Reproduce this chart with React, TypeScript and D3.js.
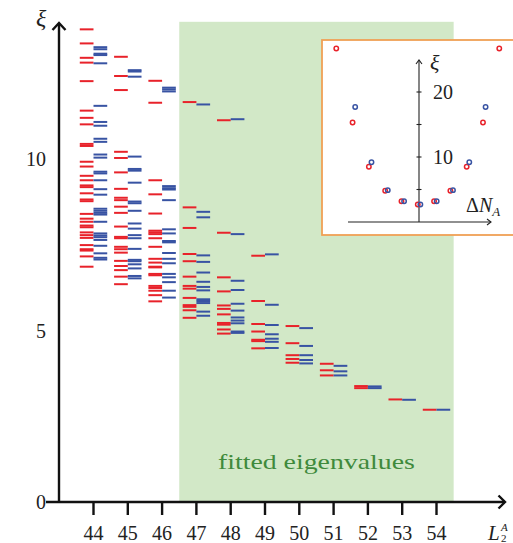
import React, { useRef, useEffect } from "react";
import * as d3 from "d3";

// subsystem sizes on the x axis
const sizes = [44, 45, 46, 47, 48, 49, 50, 51, 52, 53, 54];
const xTicks = sizes;
const yTicks = [0, 5, 10];

// entanglement levels per size (red = one sector, blue = the other)
const redLevels: number[][] = [
  [13.78, 13.37, 12.95, 12.81, 12.27, 11.41, 11.2, 11.01, 10.44, 10.38, 9.92, 9.78, 9.51, 9.38, 9.23, 9.18, 9.0, 8.82, 8.77, 8.4, 8.26, 8.17, 8.06, 8.01, 7.86, 7.78, 7.7, 7.49, 7.37, 7.33, 7.16, 6.86],
  [12.98, 12.42, 12.01, 10.21, 10.03, 9.61, 9.13, 8.87, 8.8, 8.61, 8.43, 8.03, 7.73, 7.69, 7.44, 7.37, 7.27, 7.03, 6.88, 6.76, 6.57, 6.35],
  [12.28, 11.64, 9.38, 8.97, 8.41, 7.91, 7.86, 7.81, 7.69, 7.44, 7.09, 6.98, 6.86, 6.84, 6.65, 6.61, 6.3, 6.24, 6.16, 6.03, 5.85],
  [11.66, 8.59, 7.99, 7.23, 7.02, 6.57, 6.3, 6.22, 5.95, 5.74, 5.69, 5.59, 5.37],
  [11.13, 7.85, 6.55, 6.14, 5.73, 5.63, 5.47, 5.22, 5.17, 5.03, 4.91],
  [7.18, 5.86, 5.19, 4.97, 4.73, 4.69, 4.48],
  [5.13, 4.63, 4.28, 4.17, 4.06],
  [4.03, 3.84, 3.69],
  [3.38, 3.32],
  [2.99],
  [2.69],
];
const blueLevels: number[][] = [
  [13.26, 13.2, 13.07, 13.03, 12.79, 11.55, 11.08, 10.97, 10.59, 10.5, 10.13, 10.04, 9.63, 9.58, 9.38, 9.12, 8.96, 8.55, 8.49, 8.43, 8.38, 8.17, 7.83, 7.77, 7.72, 7.64, 7.47, 7.25, 7.12, 7.07],
  [12.59, 12.55, 12.4, 10.07, 9.71, 9.66, 9.31, 8.76, 8.71, 8.49, 8.12, 7.97, 7.78, 7.69, 7.38, 7.06, 7.02, 6.93, 6.81, 6.59, 6.52],
  [12.08, 12.03, 11.97, 9.21, 9.15, 9.11, 8.8, 7.95, 7.83, 7.61, 7.57, 7.26, 7.09, 6.96, 6.65, 6.55, 6.41, 6.16, 5.96],
  [11.59, 8.46, 8.3, 7.19, 7.0, 6.69, 6.42, 6.27, 6.17, 5.91, 5.86, 5.8, 5.55, 5.43],
  [11.16, 7.81, 6.45, 6.18, 5.78, 5.58, 5.38, 5.29, 5.21, 4.97, 4.93],
  [7.22, 5.75, 5.16, 4.89, 4.76, 4.67, 4.49],
  [5.07, 4.55, 4.28, 4.14, 4.04],
  [3.97, 3.81, 3.69],
  [3.37, 3.32],
  [2.98],
  [2.69],
];

// inset: lowest level vs particle number offset
const insetDN = [-5, -4, -3, -2, -1, 0, 1, 2, 3, 4, 5];
const insetRed = [26.7, 15.3, 8.5, 4.8, 3.2, 2.7, 3.2, 4.8, 8.5, 15.3, 26.7];
const insetBlueDN = [-4, -3, -2, -1, 0, 1, 2, 3, 4];
const insetBlue = [17.7, 9.2, 4.9, 3.2, 2.7, 3.2, 4.9, 9.2, 17.7];
const insetTicks = [5, 10, 15, 20];
const insetLabels = [10, 20];

const fitRange = [46.5, 54.5];

const RED = "#e8222a";
const BLUE = "#3853a3";
const FONT = '"Liberation Serif", "Times New Roman", serif';

const App = () => {
  const ref = useRef<SVGSVGElement>(null);

  useEffect(() => {
    const svg = d3.select(ref.current);
    svg.selectAll("*").remove();

    const x = d3.scaleLinear().domain([44, 54]).range([93.5, 436.5]);
    const y = d3.scaleLinear().domain([0, 10]).range([502, 159]);

    // fitted region
    svg
      .append("rect")
      .attr("x", x(fitRange[0]))
      .attr("y", y(14))
      .attr("width", x(fitRange[1]) - x(fitRange[0]))
      .attr("height", y(0) - y(14))
      .attr("fill", "#d2e8c7");

    svg
      .append("text")
      .attr("x", (x(fitRange[0]) + x(fitRange[1])) / 2)
      .attr("y", 469)
      .attr("text-anchor", "middle")
      .attr("font-family", FONT)
      .attr("font-size", 21)
      .attr("fill", "#3f8a3c")
      .attr("textLength", 197)
      .attr("lengthAdjust", "spacingAndGlyphs")
      .text("fitted eigenvalues");

    const w = 0.4;
    sizes.forEach((L, i) => {
      svg
        .append("g")
        .selectAll("line")
        .data(redLevels[i])
        .enter()
        .append("line")
        .attr("x1", x(L - w))
        .attr("x2", x(L))
        .attr("y1", (d) => y(d))
        .attr("y2", (d) => y(d))
        .attr("stroke", RED)
        .attr("stroke-width", 2);
      svg
        .append("g")
        .selectAll("line")
        .data(blueLevels[i])
        .enter()
        .append("line")
        .attr("x1", x(L))
        .attr("x2", x(L + w))
        .attr("y1", (d) => y(d))
        .attr("y2", (d) => y(d))
        .attr("stroke", BLUE)
        .attr("stroke-width", 2);
    });

    // axes
    const ax = svg.append("g").attr("stroke", "#111").attr("fill", "none");
    ax.append("line")
      .attr("x1", 46).attr("x2", 505)
      .attr("y1", y(0)).attr("y2", y(0))
      .attr("stroke-width", 2.4);
    ax.append("line")
      .attr("x1", 59).attr("x2", 59)
      .attr("y1", y(0) + 1).attr("y2", 23)
      .attr("stroke-width", 2.4);
    ax.append("path")
      .attr("d", "M52.5,30 L59,23 L65.5,30")
      .attr("stroke-width", 2.4);
    ax.append("path")
      .attr("d", `M498.5,${y(0) - 6.5} L505,${y(0)} L498.5,${y(0) + 6.5}`)
      .attr("stroke-width", 2.4);
    ax.selectAll(".xt")
      .data(xTicks)
      .enter()
      .append("line")
      .attr("x1", (d) => x(d))
      .attr("x2", (d) => x(d))
      .attr("y1", y(0))
      .attr("y2", y(0) + 13)
      .attr("stroke-width", 2.4);

    svg
      .append("g")
      .selectAll("text")
      .data(xTicks)
      .enter()
      .append("text")
      .attr("x", (d) => x(d))
      .attr("y", 540)
      .attr("text-anchor", "middle")
      .attr("font-family", FONT)
      .attr("font-size", 20)
      .attr("fill", "#222")
      .text((d) => d);

    svg
      .append("g")
      .selectAll("text")
      .data(yTicks)
      .enter()
      .append("text")
      .attr("x", 46)
      .attr("y", (d) => y(d) + 7)
      .attr("text-anchor", "end")
      .attr("font-family", FONT)
      .attr("font-size", 20)
      .attr("fill", "#222")
      .text((d) => d);

    svg
      .append("text")
      .attr("x", 36)
      .attr("y", 26)
      .attr("font-family", FONT)
      .attr("font-style", "italic")
      .attr("font-size", 24)
      .attr("fill", "#222")
      .text("ξ");

    // x axis label L with sub/superscripts
    svg
      .append("text")
      .attr("x", 488)
      .attr("y", 540)
      .attr("font-family", FONT)
      .attr("font-style", "italic")
      .attr("font-size", 21)
      .attr("fill", "#222")
      .text("L");
    svg
      .append("text")
      .attr("x", 501)
      .attr("y", 531)
      .attr("font-family", FONT)
      .attr("font-style", "italic")
      .attr("font-size", 11)
      .attr("fill", "#222")
      .text("A");
    svg
      .append("text")
      .attr("x", 501)
      .attr("y", 542)
      .attr("font-family", FONT)
      .attr("font-size", 11)
      .attr("fill", "#222")
      .text("2");

    // inset
    const ix = d3.scaleLinear().domain([-5, 5]).range([419 - 81.5, 419 + 81.5]);
    const iy = d3.scaleLinear().domain([0, 20]).range([222, 92]);

    svg
      .append("rect")
      .attr("x", 322)
      .attr("y", 40)
      .attr("width", 200)
      .attr("height", 195)
      .attr("fill", "#fff")
      .attr("stroke", "#f0a055")
      .attr("stroke-width", 1.8);

    const ia = svg.append("g").attr("stroke", "#222").attr("fill", "none").attr("stroke-width", 1.1);
    ia.append("line").attr("x1", 348).attr("x2", 491).attr("y1", iy(0)).attr("y2", iy(0));
    ia.append("line").attr("x1", ix(0)).attr("x2", ix(0)).attr("y1", iy(0)).attr("y2", 60);
    ia.append("path").attr("d", `M${ix(0) - 3},64 L${ix(0)},60 L${ix(0) + 3},64`);
    ia.append("path").attr("d", `M487,${iy(0) - 3} L491,${iy(0)} L487,${iy(0) + 3}`);
    ia.selectAll(".it")
      .data(insetTicks)
      .enter()
      .append("line")
      .attr("x1", ix(0) - 2.5)
      .attr("x2", ix(0) + 2.5)
      .attr("y1", (d) => iy(d))
      .attr("y2", (d) => iy(d));

    svg
      .append("g")
      .selectAll("text")
      .data(insetLabels)
      .enter()
      .append("text")
      .attr("x", 433)
      .attr("y", (d) => iy(d) + 7)
      .attr("font-family", FONT)
      .attr("font-size", 20)
      .attr("fill", "#222")
      .text((d) => d);

    svg
      .append("text")
      .attr("x", 430)
      .attr("y", 70)
      .attr("font-family", FONT)
      .attr("font-style", "italic")
      .attr("font-size", 22)
      .attr("fill", "#222")
      .text("ξ");

    const dl = svg
      .append("text")
      .attr("x", 466)
      .attr("y", 212)
      .attr("font-family", FONT)
      .attr("font-size", 20)
      .attr("fill", "#222");
    dl.append("tspan").text("Δ");
    dl.append("tspan").attr("font-style", "italic").text("N");
    dl.append("tspan").attr("font-style", "italic").attr("font-size", 13).attr("dy", 4).text("A");

    svg
      .append("g")
      .selectAll("circle")
      .data(insetDN.map((d, i) => [d, insetRed[i]]))
      .enter()
      .append("circle")
      .attr("cx", (d) => ix(d[0] - 0.075))
      .attr("cy", (d) => iy(d[1]))
      .attr("r", 2.2)
      .attr("fill", "none")
      .attr("stroke", RED)
      .attr("stroke-width", 1.5);

    svg
      .append("g")
      .selectAll("circle")
      .data(insetBlueDN.map((d, i) => [d, insetBlue[i]]))
      .enter()
      .append("circle")
      .attr("cx", (d) => ix(d[0] + 0.085))
      .attr("cy", (d) => iy(d[1]))
      .attr("r", 2.2)
      .attr("fill", "none")
      .attr("stroke", BLUE)
      .attr("stroke-width", 1.5);
  }, []);

  return (
    <svg
      ref={ref}
      width={513}
      height={543}
      style={{ position: "absolute", left: 0, top: 0, background: "#fff" }}
    />
  );
};

export default App;
